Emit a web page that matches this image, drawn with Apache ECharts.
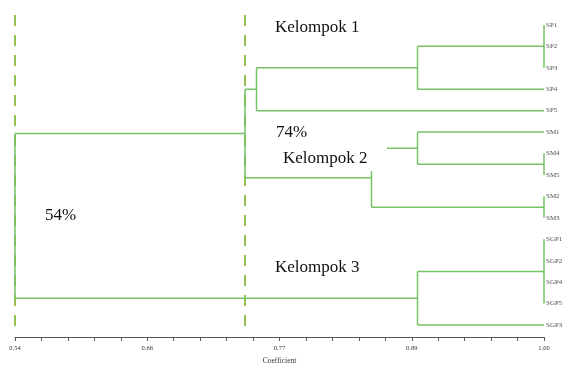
<!DOCTYPE html>
<html>
<head>
<meta charset="utf-8">
<script src="https://cdn.jsdelivr.net/npm/echarts@6/dist/echarts.min.js"></script>
<style>
  html, body { margin: 0; padding: 0; background: #fff; }
  #chart { width: 568px; height: 370px; }
</style>
</head>
<body>
<div id="chart"></div>
<script>
// Leaves in dendrogram order (top to bottom)
const leaves = ['SP1', 'SP2', 'SP3', 'SP4', 'SP5', 'SM1', 'SM4', 'SM5', 'SM2', 'SM3',
                'SGP1', 'SGP2', 'SGP4', 'SGP5', 'SGP3'];

// Clusters: members (leaf names or earlier cluster ids) and similarity coefficient
const clusterIds     = ['c0', 'c1', 'c2', 'c3', 'c4', 'c5', 'c6', 'c7', 'c8', 'c9', 'c10'];
const clusterMembers = [
  ['SP1', 'SP2', 'SP3'],
  ['c0', 'SP4'],
  ['c1', 'SP5'],
  ['SM4', 'SM5'],
  ['SM1', 'c3'],
  ['SM2', 'SM3'],
  ['c4', 'c5'],
  ['c2', 'c6'],
  ['SGP1', 'SGP2', 'SGP4', 'SGP5'],
  ['c8', 'SGP3'],
  ['c7', 'c9']
];
const clusterHeights = [1.00, 0.89, 0.75, 1.00, 0.89, 1.00, 0.85, 0.74, 1.00, 0.89, 0.54];

// Cut levels shown as dashed lines
const cutLevels = [0.54, 0.74];

// Axis tick labels
const tickLabels = ['0.54', '0.66', '0.77', '0.89', '1.00'];

// Build node positions (coefficient, row) and branch segments
const nodeX = {}, nodeY = {};
leaves.forEach((name, i) => { nodeX[name] = 1.0; nodeY[name] = i; });
const segments = [];
clusterIds.forEach((id, k) => {
  const h = clusterHeights[k];
  const ys = clusterMembers[k].map(m => nodeY[m]);
  const yMin = Math.min(...ys), yMax = Math.max(...ys);
  segments.push([h, yMin, h, yMax]);
  clusterMembers[k].forEach(m => {
    if (nodeX[m] !== h) segments.push([h, nodeY[m], nodeX[m], nodeY[m]]);
  });
  nodeX[id] = h;
  nodeY[id] = (yMin + yMax) / 2;
});

const cutSegments = cutLevels.map(c => [c, -0.46, c, 14.14]);

const chart = echarts.init(document.getElementById('chart'), null, { renderer: 'canvas' });

function segmentRenderer(color, width, dash) {
  return function (params, api) {
    const p1 = api.coord([api.value(0), api.value(1)]);
    const p2 = api.coord([api.value(2), api.value(3)]);
    return {
      type: 'line',
      shape: { x1: p1[0], y1: p1[1], x2: p2[0], y2: p2[1] },
      style: { stroke: color, lineWidth: width, lineDash: dash, lineCap: 'butt' }
    };
  };
}

const serif = '"Liberation Serif", "Times New Roman", serif';

chart.setOption({
  animation: false,
  grid: { left: 15, right: 24, top: 8, bottom: 31 },
  xAxis: {
    type: 'value',
    position: 'bottom',
    min: 0.54,
    max: 1.0,
    interval: 0.115,
    axisLine: { show: true, onZero: false, lineStyle: { color: '#555', width: 1 } },
    axisTick: { show: true, length: 4, lineStyle: { color: '#555' } },
    minorTick: { show: true, splitNumber: 5, length: 4, lineStyle: { color: '#555' } },
    splitLine: { show: false },
    minorSplitLine: { show: false },
    axisLabel: {
      fontSize: 6.5, color: '#333', margin: 8, fontFamily: serif,
      formatter: v => tickLabels[Math.round((v - 0.54) / 0.115)] || ''
    },
    name: 'Coefficient',
    nameLocation: 'middle',
    nameGap: 20,
    nameTextStyle: { fontSize: 7.5, color: '#333', fontFamily: serif }
  },
  yAxis: {
    type: 'value',
    inverse: true,
    min: -0.788,
    max: 14.557,
    show: false
  },
  series: [
    {
      type: 'custom',
      name: 'cuts',
      renderItem: segmentRenderer('#94c152', 2, [11, 9]),
      encode: { x: [0, 2], y: [1, 3] },
      data: cutSegments,
      silent: true,
      z: 1
    },
    {
      type: 'custom',
      name: 'dendrogram',
      renderItem: segmentRenderer('#76c266', 1.5, null),
      encode: { x: [0, 2], y: [1, 3] },
      data: segments,
      silent: true,
      z: 2
    },
    {
      type: 'scatter',
      name: 'leaves',
      symbolSize: 0,
      data: leaves.map((name, i) => ({ value: [1.0, i], name: name })),
      label: {
        show: true, position: 'right', distance: 2,
        formatter: p => p.name,
        fontSize: 7, color: '#222', fontFamily: serif
      },
      silent: true,
      z: 3
    }
  ],
  graphic: [
    { type: 'text', left: 275, top: 19, z: 10,
      style: { text: 'Kelompok 1', font: '17px ' + serif, fill: '#111' } },
    { type: 'text', left: 276, top: 124, z: 10,
      style: { text: '74%', font: '17px ' + serif, fill: '#111' } },
    { type: 'rect', shape: { x: 279, y: 146, width: 108, height: 25 }, z: 9,
      style: { fill: '#fff' } },
    { type: 'text', left: 283, top: 150, z: 10,
      style: { text: 'Kelompok 2', font: '17px ' + serif, fill: '#111' } },
    { type: 'text', left: 45, top: 207, z: 10,
      style: { text: '54%', font: '17px ' + serif, fill: '#111' } },
    { type: 'text', left: 275, top: 259, z: 10,
      style: { text: 'Kelompok 3', font: '17px ' + serif, fill: '#111' } }
  ]
});
</script>
</body>
</html>
